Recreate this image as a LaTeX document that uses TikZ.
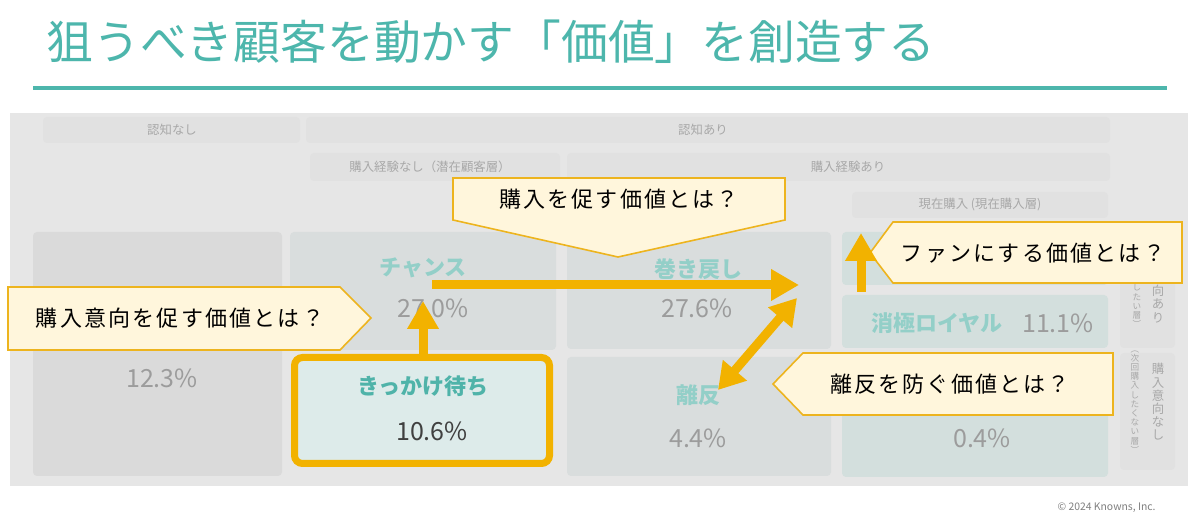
\documentclass[tikz,border=0pt]{standalone}
\usepackage{fontspec}
\setmainfont{Noto Sans CJK JP}
\newfontfamily\calfont[LetterSpace=10]{Noto Sans CJK JP}
\usetikzlibrary{arrows.meta}
\definecolor{titleteal}{HTML}{4DB6AC}
\definecolor{tablebg}{HTML}{E6E6E6}
\definecolor{headcell}{HTML}{E1E1E1}
\definecolor{greycell}{HTML}{DADADA}
\definecolor{midcell}{HTML}{D9DDDD}
\definecolor{rightcell}{HTML}{D3DFDD}
\definecolor{kkfill}{HTML}{DDEBEA}
\definecolor{fadeteal}{HTML}{93CFC8}
\definecolor{strongteal}{HTML}{4FB3A9}
\definecolor{pctgrey}{HTML}{9C9C9C}
\definecolor{headgrey}{HTML}{A8A8A8}
\definecolor{accent}{HTML}{F2B200}
\definecolor{calfill}{HTML}{FFF6DC}
\definecolor{calline}{HTML}{EDB41E}
\tikzset{
  headtxt/.style={text=headgrey, font=\fontsize{6.2pt}{7pt}\selectfont, inner sep=0pt},
  celllabel/.style={text=fadeteal, font=\fontsize{11pt}{12pt}\selectfont\bfseries, inner sep=0pt},
  pcttxt/.style={text=pctgrey, font=\fontsize{12.5pt}{13pt}\selectfont, inner sep=0pt},
  vtxtbig/.style={text=headgrey, align=center, font=\fontsize{6.2pt}{6.6pt}\selectfont, inner sep=0pt},
  vtxtsmall/.style={text=headgrey, align=center, font=\fontsize{4.3pt}{4.6pt}\selectfont, inner sep=0pt},
  callout/.style={fill=calfill, draw=calline, line width=0.8pt, line join=miter},
  caltxt/.style={text=black, font=\calfont\fontsize{11pt}{12pt}\selectfont, inner sep=0pt},
  bigarrow/.style={draw=accent, line width=4.5pt, -{Triangle[width=15pt,length=14pt]}},
  dblarrow/.style={draw=accent, line width=4.5pt, {Triangle[width=15pt,length=13pt]}-{Triangle[width=15pt,length=13pt]}}
}
\begin{document}
\begin{tikzpicture}[x=0.5pt,y=-0.5pt]
\useasboundingbox (0,0) rectangle (1200,528);
\fill[white] (0,0) rectangle (1200,528);

% title
\node[anchor=west, text=titleteal, inner sep=0pt, font=\fontsize{23.4pt}{24pt}\selectfont] (title) at (46,42) {狙うべき顧客を動かす「価値」を創造する};
\draw[titleteal, line width=2pt] (33,88) -- (1167,88);

% table background
\fill[tablebg] (10,113) rectangle (1188,486);

% header cells
\fill[headcell, rounded corners=2pt] (43,117) rectangle (300,143);
\fill[headcell, rounded corners=2pt] (306,117) rectangle (1110,143);
\fill[headcell, rounded corners=2pt] (310,153) rectangle (560,181);
\fill[headcell, rounded corners=2pt] (567,153) rectangle (1110,181);
\fill[headcell, rounded corners=2pt] (852,192) rectangle (1108,218);
\node[headtxt] (h1) at (172,130) {認知なし};
\node[headtxt] (h2) at (703,130) {認知あり};
\node[headtxt] (h3) at (430,167) {購入経験なし（潜在顧客層）};
\node[headtxt] (h4) at (848,167) {購入経験あり};
\node[headtxt] (h5) at (980,205) {現在購入 (現在購入層)};

% data cells
\fill[greycell, rounded corners=2pt] (33,232) rectangle (282,476);
\fill[midcell, rounded corners=2pt] (290,232) rectangle (556,350);
\fill[midcell, rounded corners=2pt] (567,232) rectangle (831,349);
\fill[midcell, rounded corners=2pt] (567,357) rectangle (831,476);
\fill[rightcell, rounded corners=2pt] (842,232) rectangle (1108,285);
\fill[rightcell, rounded corners=2pt] (842,295) rectangle (1108,348);
\fill[rightcell, rounded corners=2pt] (842,356) rectangle (1108,477);

% side label boxes (upper part of the upper one is covered by a callout)
\fill[headcell, rounded corners=2pt] (1120,236) rectangle (1175,348);
\fill[headcell, rounded corners=2pt] (1120,353) rectangle (1175,470);
\node[vtxtsmall] (s1) at (1137,306) {し\\た\\い\\層\\︶};
\node[vtxtbig] (s2) at (1158,304) {向\\あ\\り};
\node[vtxtsmall] (s3) at (1135,402) {︵\\次\\回\\購\\入\\し\\た\\く\\な\\い\\層\\︶};
\node[vtxtbig] (s4) at (1158,402) {購\\入\\意\\向\\な\\し};

% cell texts
\node[pcttxt] (p1) at (162,378) {12.3\%};
\node[celllabel] (l2) at (423,268) {チャンス};
\node[pcttxt] (p2) at (433,308) {27.0\%};
\node[celllabel] (l3) at (698,269) {巻き戻し};
\node[pcttxt] (p3) at (697,308) {27.6\%};
\node[celllabel] (l4) at (698,395) {離反};
\node[pcttxt] (p4) at (698,438) {4.4\%};
\node[celllabel] (l5) at (937,323) {消極ロイヤル};
\node[pcttxt] (p5) at (1058,323) {11.1\%};
\node[pcttxt] (p6) at (982,438) {0.4\%};

% highlighted cell
\draw[accent, line width=3.5pt, rounded corners=4pt, fill=kkfill] (294.5,357.5) rectangle (549.5,463.5);
\node[text=strongteal, font=\fontsize{11pt}{12pt}\selectfont\bfseries, inner sep=0pt] (kk) at (423,386) {きっかけ待ち};
\node[text=black!75, font=\fontsize{12.5pt}{13pt}\selectfont, inner sep=0pt] (kkp) at (432,431) {10.6\%};

% callouts
\draw[callout] (453,178) -- (785,178) -- (785,220) -- (618,257) -- (453,220) -- cycle;
\node[caltxt] (c1) at (619,199) {購入を促す価値とは？};
\draw[callout] (8,287) -- (340,287) -- (371,318) -- (340,350) -- (8,350) -- cycle;
\node[caltxt] (c2) at (180,318) {購入意向を促す価値とは？};
\draw[callout] (870,253) -- (893,222) -- (1182,222) -- (1182,283) -- (893,283) -- cycle;
\node[caltxt] (c3) at (1033,253) {ファンにする価値とは？};
\draw[callout] (773,384) -- (803,353) -- (1113,353) -- (1113,415) -- (803,415) -- cycle;
\node[caltxt] (c4) at (950,384) {離反を防ぐ価値とは？};

% arrows
\coordinate (aS) at (432,285);
\coordinate (aE) at (799,285);
\coordinate (bS) at (423,356);
\coordinate (bE) at (423,301);
\coordinate (cS) at (718,390);
\coordinate (cE) at (797,298);
\coordinate (dS) at (861,292);
\coordinate (dE) at (861,233);
\draw[bigarrow] (aS) -- (aE);
\draw[bigarrow] (bS) -- (bE);
\draw[dblarrow] (cS) -- (cE);
\draw[bigarrow] (dS) -- (dE);

% footer
\node[anchor=east, text=black!50, inner sep=0pt, font=\fontsize{5.2pt}{6pt}\selectfont] (copy) at (1156,508) {© 2024 Knowns, Inc.};
\end{tikzpicture}
\end{document}
